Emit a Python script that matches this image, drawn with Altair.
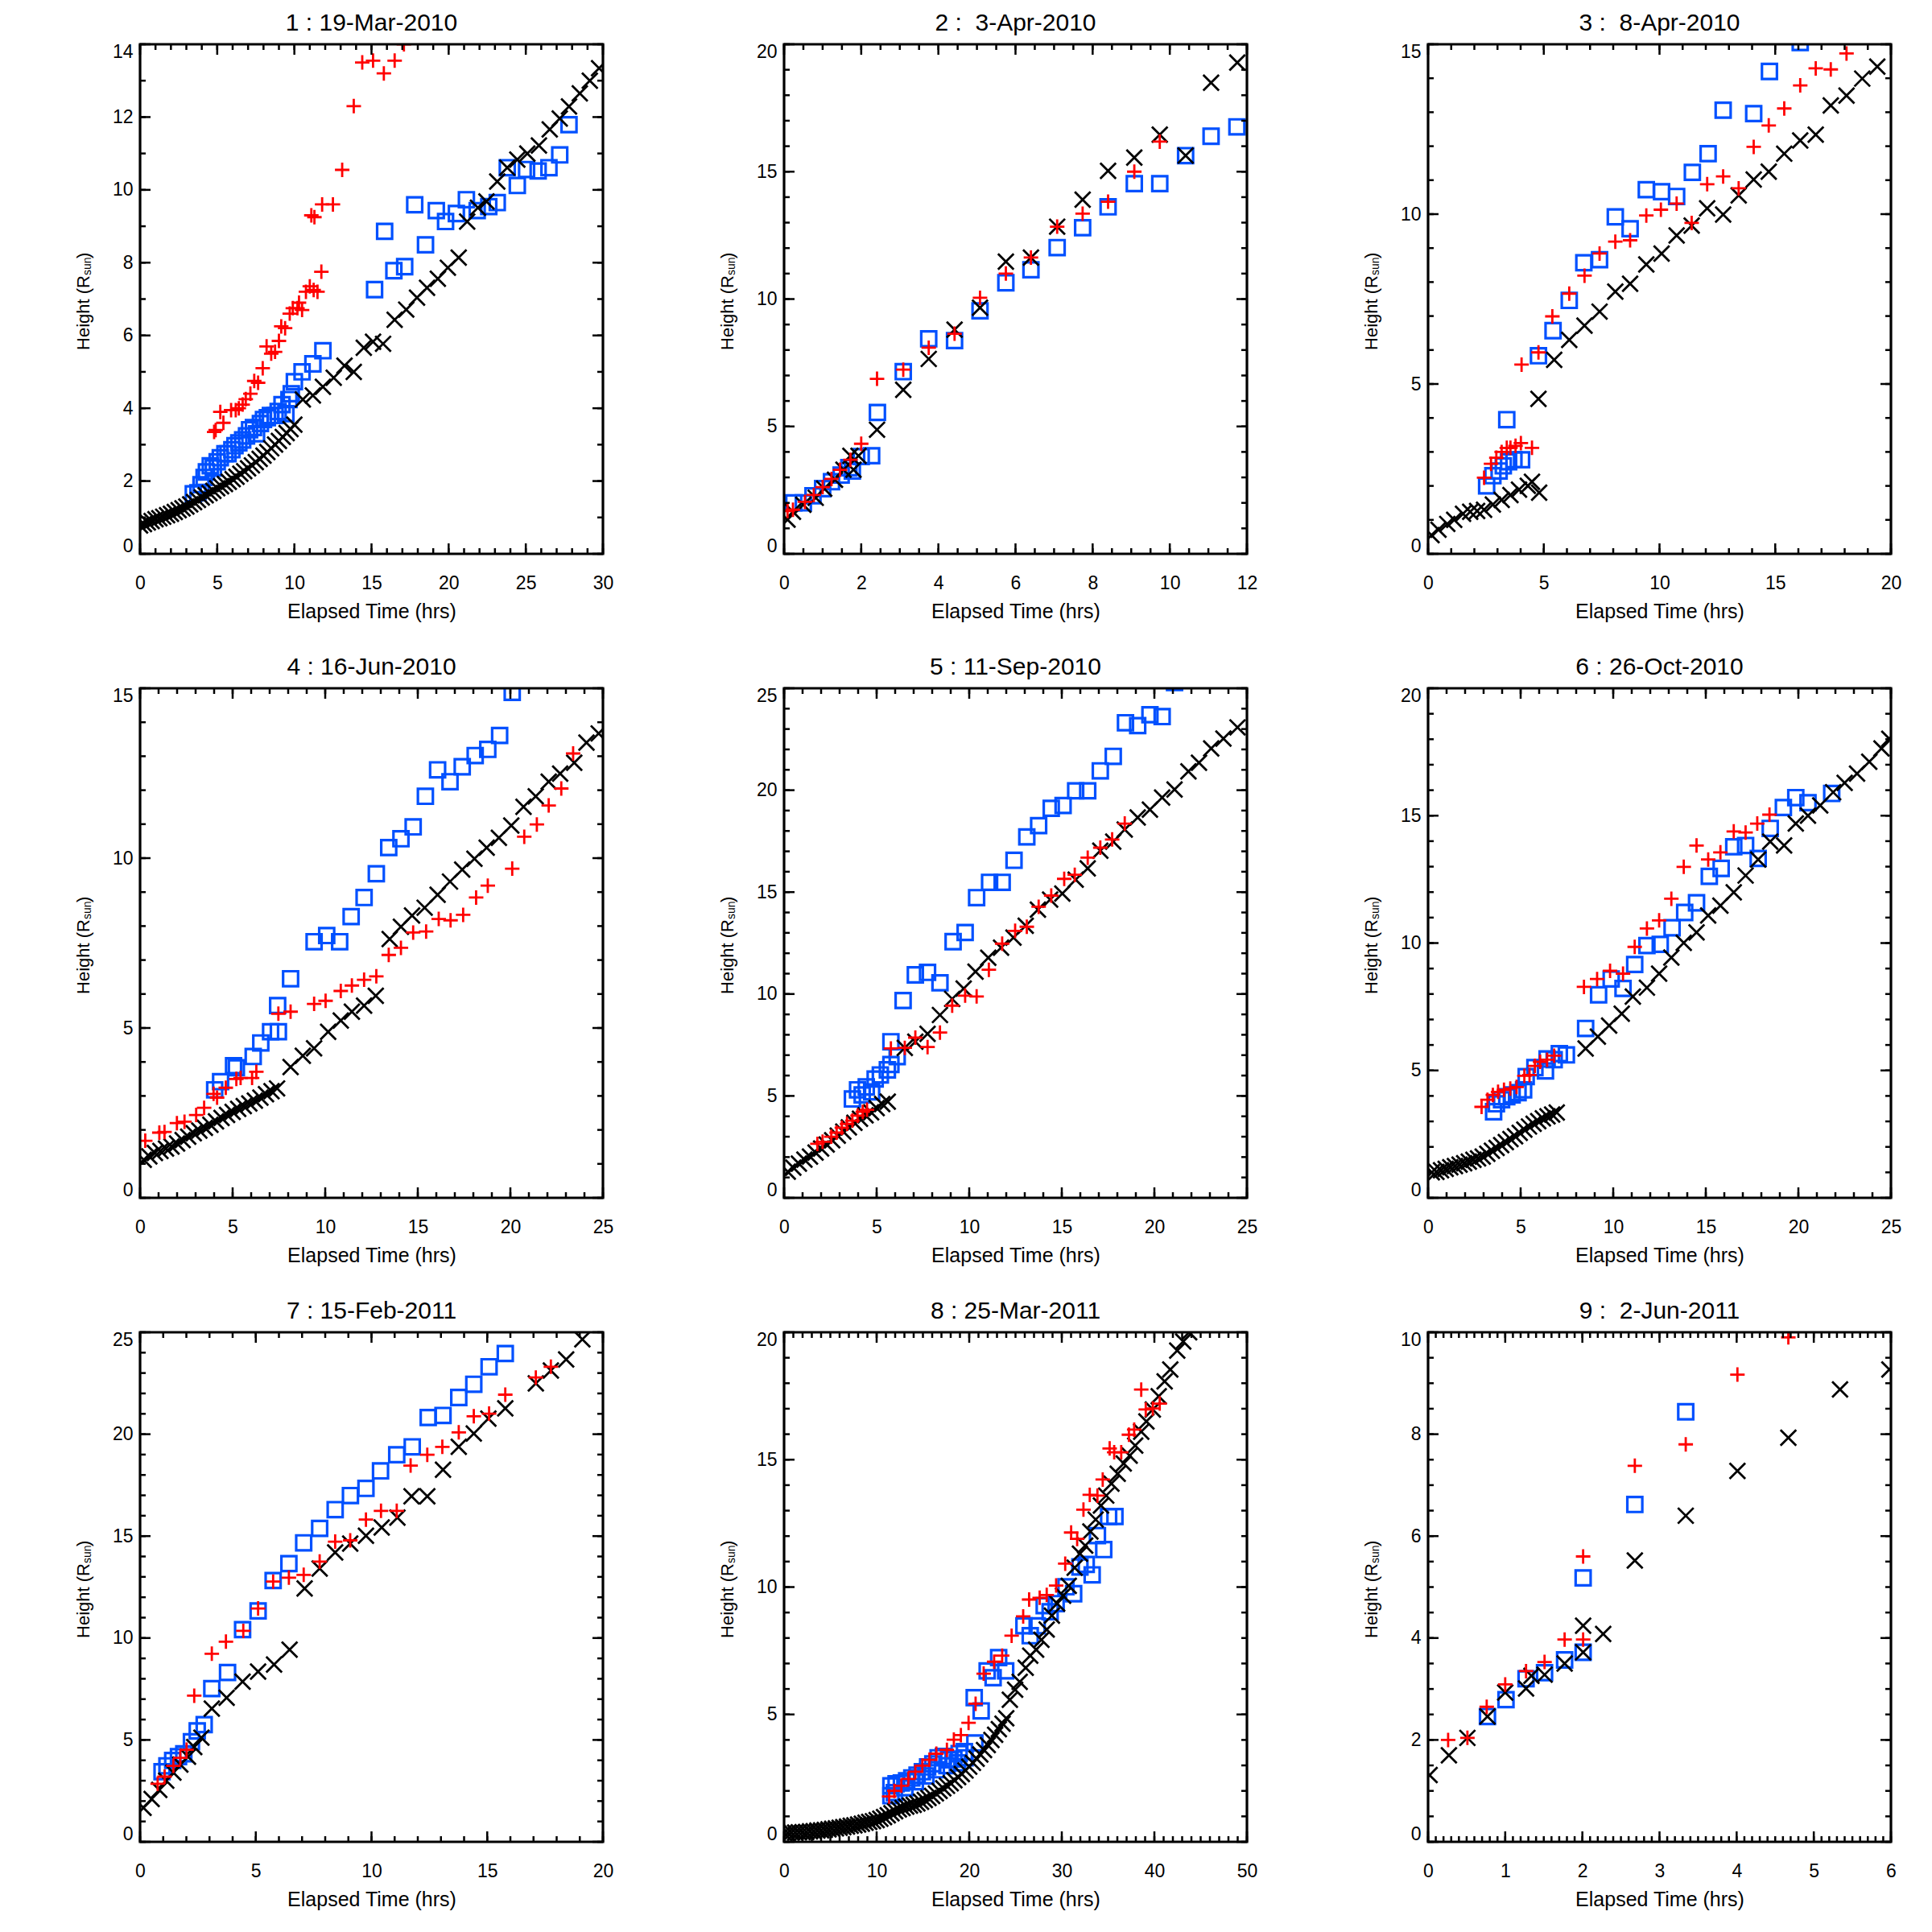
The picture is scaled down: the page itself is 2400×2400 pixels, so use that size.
import altair as alt
import pandas as pd

FONT = "Liberation Sans"
RED = "#ff0000"
BLUE = "#0050ff"
BLACK = "#000000"
W, H = 575, 633

TITLES = ["1 : 19-Mar-2010", "2 :\u00a0 3-Apr-2010", "3 :\u00a0 8-Apr-2010",
          "4 : 16-Jun-2010", "5 : 11-Sep-2010", "6 : 26-Oct-2010",
          "7 : 15-Feb-2011", "8 : 25-Mar-2011", "9 :\u00a0 2-Jun-2011"]
XMAX = [30, 12, 20, 25, 25, 25, 20, 50, 6]
YMAX = [14, 20, 15, 15, 25, 20, 25, 20, 10]
XMAJ = [5, 2, 5, 5, 5, 5, 5, 10, 1]
XMIN = [1, 0.5, 1, 1, 1, 1, 1, 1, 0.1]
YMAJ = [2, 5, 5, 5, 5, 5, 5, 5, 2]
YMIN = [1, 1, 1, 1, 1, 1, 1, 1, 0.5]

# ---------------- Panel 1 ----------------
R1 = [(4.8,3.35),(4.9,3.4),(5.2,3.9),(5.4,3.6),(5.9,3.95),(6.2,3.95),(6.4,4.0),(6.65,4.1),(6.85,4.25),(7.15,4.4),
      (7.4,4.75),(7.65,4.7),(7.95,5.1),(8.2,5.7),(8.5,5.5),(8.75,5.55),(9.0,5.85),(9.15,6.25),(9.4,6.2),(9.7,6.6),
      (9.9,6.75),(10.2,6.75),(10.3,6.9),(10.5,6.7),(10.75,7.2),(11.0,7.35),(11.25,7.25),(11.5,7.2),(11.1,9.3),(11.3,9.25),
      (11.75,7.75),(11.8,9.6),(12.5,9.6),(13.1,10.55),(13.85,12.3),(14.4,13.5),(15.1,13.55),(15.8,13.2),(16.5,13.55),(17.1,14.0)]
B1 = [(3.45,1.65),(3.75,1.68),(3.95,1.9),(4.15,2.1),(4.3,2.25),(4.55,2.42),(4.75,2.36),(5.0,2.53),(5.2,2.64),(5.5,2.75),
      (5.7,2.75),(5.95,2.86),(6.15,2.97),(6.4,3.05),(6.65,3.13),(6.9,3.24),(7.1,3.41),(7.35,3.47),(7.55,3.3),(7.8,3.58),
      (8.0,3.69),(8.25,3.74),(8.45,3.8),(8.75,3.8),(8.95,3.91),(9.2,4.1),(9.45,3.85),(9.65,4.24),(9.8,4.4),(10.0,4.73),
      (10.5,5.0),(11.2,5.22),(11.85,5.58),(15.2,7.26),(15.85,8.86),(16.45,7.78),(17.15,7.89),(17.8,9.59),(18.5,8.49),(19.2,9.43),
      (19.8,9.13),(20.5,9.35),(21.15,9.73),(21.85,9.43),(22.6,9.54),(23.15,9.65),(23.8,10.61),(24.45,10.12),(25.05,10.56),(25.8,10.52),
      (26.5,10.61),(27.2,10.96),(27.8,11.79)]
K1 = [(0.0,0.78),(0.25,0.82),(0.5,0.86),(0.75,0.9),(1.0,0.95),(1.25,0.98),(1.5,1.02),(1.75,1.06),(2.0,1.1),(2.25,1.15),
      (2.5,1.2),(2.75,1.25),(3.0,1.3),(3.25,1.36),(3.5,1.42),(3.75,1.48),(4.0,1.55),(4.25,1.61),(4.5,1.67),(4.75,1.73),
      (5.0,1.8),(5.25,1.86),(5.5,1.92),(5.75,1.98),(6.0,2.05),(6.25,2.12),(6.5,2.2),(6.75,2.27),(7.0,2.35),(7.25,2.43),
      (7.5,2.52),(7.75,2.61),(8.0,2.7),(8.25,2.8),(8.5,2.9),(8.75,3.0),(9.0,3.1),(9.25,3.21),(9.5,3.32),(9.75,3.43),(10.0,3.55),
      (10.55,4.24),(11.2,4.35),(11.85,4.59),(12.55,4.84),(13.25,5.17),(13.85,5.0),(14.5,5.66),(15.1,5.83),(15.75,5.77),(16.5,6.43),
      (17.25,6.71),(17.95,7.04),(18.6,7.31),(19.3,7.56),(19.95,7.86),(20.65,8.14),(21.2,9.13),(21.9,9.51),(22.45,9.68),(23.15,10.23),
      (23.8,10.61),(24.45,10.83),(25.1,11.0),(25.85,11.22),(26.55,11.66),(27.2,11.96),(27.8,12.29),(28.5,12.65),(29.15,13.0),(29.75,13.34)]

# ---------------- Panel 2 ----------------
R2 = [(0.09,1.68),(0.23,1.73),(0.54,2.04),(0.77,2.31),(1.0,2.62),(1.23,2.94),(1.45,3.3),(1.72,3.69),(2.0,4.32),(2.41,6.87),
      (3.09,7.23),(3.75,8.09),(4.42,8.64),(5.08,10.05),(5.75,11.0),(6.4,11.63),(7.08,12.84),(7.74,13.35),(8.4,13.82),(9.08,15.0),(9.74,16.18)]
B2 = [(0.25,2.0),(0.5,2.0),(0.75,2.28),(1.0,2.56),(1.23,2.83),(1.48,3.09),(1.68,3.38),(1.77,3.25),(2.0,3.82),(2.27,3.85),
      (2.42,5.55),(3.09,7.15),(3.75,8.44),(4.42,8.37),(5.08,9.54),(5.75,10.64),(6.4,11.15),(7.08,12.02),(7.74,12.8),(8.4,13.62),
      (9.08,14.53),(9.74,14.53),(10.41,15.63),(11.07,16.39),(11.74,16.76)]
K2 = [(0.09,1.34),(0.23,1.65),(0.5,1.93),(0.82,2.2),(1.04,2.56),(1.32,2.91),(1.54,3.3),(1.72,3.85),(1.8,3.3),(1.93,3.85),
      (2.41,4.87),(3.09,6.44),(3.75,7.65),(4.42,8.8),(5.08,9.66),(5.75,11.47),(6.4,11.63),(7.08,12.84),(7.74,13.9),(8.4,15.03),
      (9.08,15.55),(9.74,16.45),(10.41,15.63),(11.07,18.49),(11.75,19.28)]

# ---------------- Panel 3 ----------------
R3 = [(2.42,2.24),(2.72,2.65),(2.95,2.83),(3.18,3.0),(3.4,3.12),(3.56,3.12),(3.78,3.18),(4.01,3.26),(4.49,3.12),(4.04,5.57),
      (4.77,5.93),(5.37,6.99),(6.1,7.66),(6.76,8.19),(7.41,8.84),(8.09,9.19),(8.73,9.23),(9.43,9.96),(10.06,10.13),(10.74,10.31),
      (11.39,9.74),(12.06,10.88),(12.75,11.11),(13.42,10.76),(14.07,11.98),(14.72,12.61),(15.39,13.11),(16.08,13.79),(16.75,14.29),
      (17.4,14.26),(18.08,14.73)]
B3 = [(2.53,2.0),(2.8,2.3),(3.07,2.44),(3.25,2.59),(3.48,2.71),(3.71,2.77),(4.04,2.77),(3.4,3.95),(4.77,5.83),(5.4,6.57),
      (6.1,7.46),(6.73,8.57),(7.41,8.66),(8.09,9.92),(8.73,9.57),(9.43,10.72),(10.09,10.66),(10.74,10.52),(11.42,11.23),(12.1,11.78),
      (12.75,13.06),(14.07,12.96),(14.75,14.2),(16.08,15.05)]
K3 = [(0.15,0.55),(0.45,0.71),(0.83,0.88),(1.13,1.0),(1.51,1.18),(1.82,1.24),(2.12,1.26),(2.42,1.3),(2.8,1.45),(3.18,1.59),
      (3.56,1.73),(3.93,1.89),(4.31,2.0),(4.49,2.12),(4.8,1.8),(4.77,4.56),(5.45,5.71),(6.1,6.3),(6.76,6.72),(7.41,7.13),
      (8.09,7.72),(8.73,7.95),(9.43,8.52),(10.09,8.84),(10.74,9.37),(11.39,9.66),(12.06,10.17),(12.75,9.99),(13.42,10.55),(14.07,11.02),
      (14.72,11.25),(15.39,11.78),(16.08,12.17),(16.75,12.34),(17.4,13.2),(18.08,13.49),(18.76,13.99),(19.41,14.34)]

# ---------------- Panel 4 ----------------
R4 = [(0.28,1.68),(1.04,1.92),(1.32,1.94),(1.99,2.2),(2.4,2.24),(3.03,2.44),(3.46,2.65),(3.97,3.06),(4.16,2.95),(4.63,3.24),
      (5.2,3.5),(5.43,3.53),(6.05,3.53),(6.28,3.71),(7.47,5.42),(8.13,5.48),(9.4,5.71),(10.02,5.8),(10.84,6.09),(11.44,6.25),
      (12.1,6.42),(12.76,6.52),(13.43,7.15),(14.09,7.36),(14.75,7.81),(15.45,7.84),(16.13,8.21),(16.77,8.17),(17.45,8.33),(18.15,8.84),
      (18.78,9.19),(20.1,9.69),(20.75,10.63),(21.43,10.99),(22.07,11.55),(22.75,12.05),(23.39,13.08)]
B4 = [(4.03,3.18),(4.35,3.42),(5.05,3.89),(5.2,3.83),(6.11,4.16),(6.52,4.56),(7.05,4.89),(7.47,4.89),(7.43,5.66),(8.13,6.45),
      (9.4,7.54),(10.08,7.72),(10.78,7.54),(11.4,8.28),(12.1,8.84),(12.76,9.54),(13.43,10.31),(14.09,10.57),(14.75,10.92),(15.41,11.82),
      (16.07,12.6),(16.74,12.25),(17.4,12.69),(18.1,13.02),(18.78,13.2),(19.42,13.61),(20.1,14.88)]
K4 = [(0.2,1.12),(0.5,1.22),(0.8,1.32),(1.1,1.38),(1.4,1.45),(1.7,1.51),(2.0,1.6),(2.3,1.7),(2.6,1.8),(2.9,1.9),
      (3.2,1.98),(3.5,2.06),(3.8,2.15),(4.1,2.25),(4.4,2.35),(4.7,2.44),(5.0,2.53),(5.3,2.62),(5.6,2.7),(5.9,2.78),
      (6.2,2.86),(6.5,2.95),(6.8,3.05),(7.1,3.14),(7.4,3.22),
      (8.13,3.85),(8.79,4.18),(9.4,4.4),(10.16,4.89),(10.84,5.22),(11.44,5.48),(12.1,5.66),(12.73,5.95),(13.48,7.62),(14.09,7.98),
      (14.69,8.31),(15.37,8.54),(16.07,8.92),(16.74,9.31),(17.4,9.66),(18.06,9.98),(18.72,10.31),(19.38,10.6),(20.05,10.96),(20.71,11.51),
      (21.37,11.82),(22.07,12.25),(22.69,12.49),(23.45,12.81),(24.11,13.4),(24.77,13.67)]

# ---------------- Panel 5 ----------------
R5 = [(1.8,2.65),(2.08,2.75),(2.55,3.0),(2.84,3.2),(3.12,3.44),(3.4,3.63),(3.69,3.79),(3.97,4.03),(4.25,4.22),(4.48,4.32),
      (5.77,7.33),(6.52,7.36),(7.09,7.86),(7.75,7.4),(8.42,8.11),(9.08,9.43),(9.78,9.92),(10.4,9.88),(11.06,11.19),(11.78,12.47),
      (12.48,13.1),(13.11,13.3),(13.75,14.28),(14.43,14.83),(15.13,15.65),(15.7,15.85),(16.4,16.69),(17.08,17.18),(17.72,17.58),(18.4,18.36)]
B5 = [(3.69,4.85),(3.97,5.3),(4.22,5.05),(4.44,5.44),(4.73,5.2),(4.92,5.83),(5.2,6.03),(5.58,6.28),(5.77,6.54),(6.11,6.93),
      (5.77,7.66),(6.43,9.68),(7.09,10.94),(7.75,11.06),(8.42,10.55),(9.13,12.57),(9.78,13.02),(10.4,14.73),(11.1,15.48),(11.78,15.48),
      (12.42,16.56),(13.11,17.71),(13.75,18.26),(14.43,19.11),(15.07,19.25),(15.75,19.97),(16.4,19.97),(17.08,20.95),(17.78,21.66),(18.44,23.31),
      (19.1,23.17),(19.76,23.7),(20.42,23.61),(21.09,25.28)]
K5 = [(0.2,1.28),(0.5,1.48),(0.8,1.68),(1.1,1.88),(1.4,2.02),(1.7,2.22),(2.0,2.42),(2.3,2.62),(2.6,2.82),(2.9,3.05),
      (3.2,3.25),(3.5,3.46),(3.8,3.68),(4.1,3.88),(4.4,4.05),(4.7,4.2),(5.0,4.4),(5.3,4.6),(5.6,4.72),
      (6.52,7.36),(7.09,7.66),(7.75,8.05),(8.42,8.97),(9.08,9.76),(9.7,10.27),(10.34,11.1),(11.03,11.78),(11.72,12.27),(12.39,12.77),
      (13.05,13.35),(13.71,14.14),(14.37,14.63),(15.03,14.93),(15.75,15.61),(16.4,16.16),(17.08,17.03),(17.78,17.48),(18.4,18.07),(19.1,18.66),
      (19.76,19.05),(20.42,19.64),(21.09,20.03),(21.84,20.92),(22.41,21.35),(23.07,22.05),(23.73,22.53),(24.49,23.08)]

# ---------------- Panel 6 ----------------
R6 = [(2.89,3.57),(3.21,3.85),(3.5,4.04),(3.78,4.16),(4.1,4.24),(4.44,4.29),(4.78,4.35),(5.2,4.79),(5.48,4.82),(5.77,5.18),
      (6.05,5.34),(6.43,5.42),(6.81,5.58),(8.42,8.28),(9.13,8.59),(9.83,8.91),(10.53,8.8),(11.16,9.85),(11.82,10.57),(12.48,10.89),
      (13.14,11.74),(13.81,12.99),(14.5,13.83),(15.13,13.28),(15.79,13.56),(16.51,14.38),(17.15,14.34),(17.78,14.69),(18.44,15.04)]
B6 = [(3.54,3.38),(3.69,3.69),(3.97,3.85),(4.25,3.97),(4.54,4.04),(4.86,4.13),(5.16,4.24),(5.3,4.76),(5.77,5.11),(6.34,4.98),
      (6.43,5.45),(6.81,5.42),(7.09,5.66),(7.47,5.61),(8.51,6.65),(9.21,7.97),(9.89,8.59),(10.53,8.22),(11.16,9.16),(11.82,9.9),
      (12.54,9.95),(13.18,10.6),(13.86,11.2),(14.5,11.58),(15.19,12.62),(15.83,12.93),(16.51,13.78),(17.15,13.83),(17.83,13.32),(18.48,14.5),
      (19.19,15.32),(19.86,15.71),(20.52,15.51),(21.8,15.87)]
K6 = [(0.2,1.0),(0.45,1.02),(0.7,1.08),(0.95,1.14),(1.2,1.2),(1.45,1.25),(1.7,1.3),(1.95,1.36),(2.2,1.42),(2.45,1.49),
      (2.7,1.55),(2.95,1.62),(3.2,1.73),(3.45,1.85),(3.7,1.96),(3.95,2.07),(4.2,2.19),(4.45,2.31),(4.7,2.42),(4.95,2.55),
      (5.2,2.68),(5.45,2.8),(5.7,2.91),(5.95,3.01),(6.2,3.12),(6.45,3.2),(6.7,3.27),(6.95,3.35),
      (8.51,5.86),(9.17,6.33),(9.78,6.76),(10.46,7.23),(11.06,7.9),(11.82,8.25),(12.48,8.8),(13.14,9.43),(13.81,10.01),(14.5,10.42),
      (15.13,11.08),(15.79,11.47),(16.51,11.99),(17.15,12.65),(17.83,13.28),(18.48,13.98),(19.23,13.83),(19.86,14.69),(20.52,15.0),(21.18,15.4),
      (21.88,15.92),(22.5,16.29),(23.17,16.65),(23.83,17.12),(24.49,17.64),(24.91,18.02)]

# ---------------- Panel 7 ----------------
R7 = [(0.76,2.85),(1.06,3.2),(1.44,3.73),(1.74,4.12),(2.01,4.52),(2.34,7.17),(3.1,9.23),(3.71,9.82),(4.46,10.35),(5.1,11.45),
      (5.75,12.77),(6.43,12.96),(7.07,13.1),(7.76,13.75),(8.43,14.73),(9.08,14.79),(9.76,15.81),(10.41,16.24),(11.09,16.24),(11.69,18.46),
      (12.41,18.99),(13.06,19.38),(13.77,20.09),(14.42,20.88),(15.08,21.01),(15.78,21.94),(17.1,22.78),(17.75,23.31)]
B7 = [(0.95,3.44),(1.16,3.73),(1.41,3.99),(1.66,4.18),(1.89,4.32),(2.22,4.91),(2.47,5.44),(2.77,5.75),(3.1,7.52),(3.78,8.31),
      (4.43,10.41),(5.1,11.33),(5.75,12.82),(6.43,13.65),(7.07,14.67),(7.76,15.38),(8.43,16.3),(9.09,16.99),(9.76,17.34),(10.39,18.2),
      (11.09,18.99),(11.76,19.38),(12.45,20.82),(13.09,20.92),(13.77,21.8),(14.42,22.45),(15.08,23.31),(15.78,23.96)]
K7 = [(0.15,1.67),(0.5,2.1),(0.83,2.55),(1.13,3.0),(1.44,3.4),(1.74,3.79),(2.07,4.18),(2.34,4.65),(2.65,5.11),(3.1,6.54),
      (3.74,7.07),(4.43,7.86),(5.1,8.35),(5.79,8.7),(6.46,9.43),(7.11,12.43),(7.76,13.41),(8.43,14.2),(9.08,14.63),(9.76,15.02),
      (10.44,15.42),(11.12,15.91),(11.73,16.95),(12.41,16.95),(13.09,18.26),(13.77,19.38),(14.42,20.03),(15.05,20.76),(15.78,21.27),(17.1,22.49),
      (17.75,23.12),(18.41,23.67),(19.11,24.65)]

# ---------------- Panel 8 ----------------
R8 = [(11.35,1.78),(11.91,2.0),(12.67,2.2),(13.43,2.47),(14.18,2.75),(14.94,2.99),(15.7,3.22),(16.45,3.46),(17.59,3.61),(18.34,4.01),
      (19.1,4.19),(19.93,4.67),(20.69,5.42),(21.56,6.6),(22.69,7.07),(23.56,7.31),(24.58,8.09),(25.83,8.85),(26.47,9.51),(27.61,9.58),
      (28.37,9.69),(29.39,10.06),(30.37,10.92),(31.01,12.14),(31.66,11.89),(32.34,13.04),(33.02,13.62),(33.85,13.59),(34.42,14.22),(35.17,15.44),
      (35.66,15.29),(36.42,15.29),(37.25,15.98),(37.82,16.18),(38.58,17.75),(39.07,16.97),(39.83,17.01),(40.58,17.2)]
B8 = [(11.54,1.81),(11.54,2.2),(11.91,1.93),(12.1,2.28),(12.67,2.31),(13.05,2.12),(13.24,2.4),(13.8,2.51),(14.18,2.36),(14.37,2.62),
      (14.94,2.75),(15.32,2.59),(15.51,2.94),(16.07,3.06),(16.45,2.83),(16.64,3.3),(17.21,3.35),(17.59,2.99),(17.78,3.22),(18.34,3.25),
      (18.72,3.1),(18.91,3.46),(19.48,3.54),(19.55,3.3),(20.61,3.88),(20.54,5.66),(21.29,5.14),(21.94,6.71),(22.58,6.44),(23.18,7.23),
      (23.94,6.71),(25.91,8.48),(26.59,8.09),(27.34,8.48),(28.1,9.27),(28.74,9.03),(29.39,9.35),(30.45,10.01),(31.28,9.74),(31.96,10.79),
      (32.64,10.89),(33.28,10.48),(33.85,12.02),(34.53,11.47),(35.06,12.77),(35.74,12.77)]
K8 = [(0.0,0.35),(0.4,0.35),(0.8,0.36),(1.2,0.36),(1.6,0.37),(2.0,0.38),(2.4,0.39),(2.8,0.41),(3.2,0.42),(3.6,0.44),
      (4.0,0.45),(4.4,0.47),(4.8,0.49),(5.2,0.51),(5.6,0.53),(6.0,0.55),(6.4,0.58),(6.8,0.6),(7.2,0.63),(7.6,0.65),
      (8.0,0.68),(8.4,0.71),(8.8,0.75),(9.2,0.78),(9.6,0.81),(10.0,0.85),(10.4,0.91),(10.8,0.97),(11.2,1.04),(11.6,1.12),
      (12.0,1.2),(12.4,1.27),(12.8,1.33),(13.2,1.38),(13.6,1.42),(14.0,1.45),(14.4,1.51),(14.8,1.57),(15.2,1.64),(15.6,1.72),
      (16.0,1.8),(16.4,1.9),(16.8,2.0),(17.2,2.1),(17.6,2.2),(18.0,2.3),(18.4,2.42),(18.8,2.54),(19.2,2.66),(19.6,2.8),
      (20.0,2.95),(20.4,3.1),(20.8,3.26),(21.2,3.43),(21.6,3.6),(22.0,3.8),(22.4,4.0),(22.8,4.2),(23.2,4.42),(23.6,4.64),(24.0,4.85),
      (24.39,5.58),(24.96,5.97),(25.45,6.28),(26.1,6.83),(26.59,7.31),(27.23,7.54),(27.8,7.93),(28.37,8.33),(28.93,8.88),(29.5,9.35),
      (30.14,9.66),(30.75,10.05),(31.39,10.76),(31.96,11.31),(32.53,11.63),(33.09,12.18),(33.66,12.65),(34.23,13.2),(34.8,13.59),(35.36,14.06),
      (36.04,14.45),(36.69,14.85),(37.33,15.16),(37.93,15.55),(38.58,16.1),(39.14,16.5),(39.83,16.97),(40.47,17.49),(41.11,18.07),(41.72,18.54),
      (42.47,19.28),(43.12,19.64),(43.76,20.0)]

# ---------------- Panel 9 ----------------
R9 = [(0.26,2.0),(0.51,2.04),(0.76,2.65),(1.0,3.09),(1.27,3.35),(1.51,3.53),(1.77,3.97),(2.01,3.97),(2.01,5.6),(2.68,7.38),
      (3.34,7.8),(4.01,9.17),(4.67,9.9)]
B9 = [(0.77,2.46),(1.01,2.79),(1.27,3.2),(1.51,3.32),(1.77,3.57),(2.01,3.72),(2.01,5.18),(2.68,6.62),(3.34,8.44)]
K9 = [(0.02,1.31),(0.27,1.7),(0.51,2.04),(0.77,2.46),(1.0,2.93),(1.27,3.01),(1.34,3.26),(1.51,3.28),(1.77,3.5),(2.01,3.72),
      (2.01,4.24),(2.27,4.08),(2.68,5.52),(3.34,6.4),(4.01,7.28),(4.67,7.93),(5.34,8.88),(5.98,9.27)]

REDS = [R1, R2, R3, R4, R5, R6, R7, R8, R9]
BLUES = [B1, B2, B3, B4, B5, B6, B7, B8, B9]
BLACKS = [K1, K2, K3, K4, K5, K6, K7, K8, K9]

PLUS = "M-1,0L1,0M0,-1L0,1"
XSHAPE = "M-1,-1L1,1M-1,1L1,-1"
MAJ_LEN, MIN_LEN = 13, 7


def tick_vals(vmax, step):
    n = int(round(vmax / step))
    return [round(k * step, 6) for k in range(n + 1)]


def one(s):
    return pd.DataFrame({"s": [s]})


def make_panel(i):
    xs = alt.Scale(domain=[0, XMAX[i]], nice=False, zero=False)
    ys = alt.Scale(domain=[0, YMAX[i]], nice=False, zero=False)
    xmaj = tick_vals(XMAX[i], XMAJ[i])
    ymaj = tick_vals(YMAX[i], YMAJ[i])
    xmin = tick_vals(XMAX[i], XMIN[i])
    ymin = tick_vals(YMAX[i], YMIN[i])

    xaxis = alt.Axis(values=xmaj, format="d", title="Elapsed Time (hrs)",
                     labelBaseline="alphabetic", labelPadding=43, labelFlush=False,
                     labelOverlap=False, titleY=79, titleBaseline="alphabetic")
    yaxis = alt.Axis(values=ymaj, format="d", title=None, labelPadding=9,
                     labelFlush=True, labelFlushOffset=2, labelOverlap=False)

    def X(f):
        return alt.X(f, scale=xs, axis=xaxis)

    def Y(f):
        return alt.Y(f, scale=ys, axis=yaxis)

    def pts(data, shape, size, color, sw):
        df = pd.DataFrame(data, columns=["t", "h"])
        return alt.Chart(df).mark_point(
            shape=shape, size=size, color=color, filled=False,
            strokeWidth=sw, opacity=1, clip=True
        ).encode(x=X("t:Q"), y=Y("h:Q"))

    layers = [
        pts(BLUES[i], "square", 346, BLUE, 3.2),
        pts(BLACKS[i], XSHAPE, 380, BLACK, 2.8),
        pts(REDS[i], PLUS, 324, RED, 2.8),
    ]

    def yrules(vals, L):
        base = alt.Chart(pd.DataFrame({"v": vals})).mark_rule(color=BLACK, strokeWidth=2.5)
        return [
            base.encode(y=Y("v:Q"), x=alt.value(0), x2=alt.value(L)),
            base.encode(y=Y("v:Q"), x=alt.value(W), x2=alt.value(W - L)),
        ]

    def xrules(vals, L):
        base = alt.Chart(pd.DataFrame({"v": vals})).mark_rule(color=BLACK, strokeWidth=2.5)
        return [
            base.encode(x=X("v:Q"), y=alt.value(H), y2=alt.value(H - L)),
            base.encode(x=X("v:Q"), y=alt.value(0), y2=alt.value(L)),
        ]

    layers += yrules(ymin, MIN_LEN) + yrules(ymaj, MAJ_LEN)
    layers += xrules(xmin, MIN_LEN) + xrules(xmaj, MAJ_LEN)

    # frame box
    layers.append(alt.Chart(one("")).mark_rect(filled=False, color=BLACK, strokeWidth=3.2).encode(
        x=alt.value(0), x2=alt.value(W), y=alt.value(0), y2=alt.value(H)))

    # y-axis title "Height (R_sun)" built from three text pieces
    y0 = 287
    xt = -63
    layers.append(alt.Chart(one("Height (R")).mark_text(
        angle=270, align="right", baseline="alphabetic", font=FONT, fontSize=22, color=BLACK
    ).encode(text="s:N", x=alt.value(xt), y=alt.value(y0)))
    layers.append(alt.Chart(one("sun")).mark_text(
        angle=270, align="left", baseline="alphabetic", font=FONT, fontSize=14, color=BLACK, dy=2
    ).encode(text="s:N", x=alt.value(xt), y=alt.value(y0)))
    layers.append(alt.Chart(one(")")).mark_text(
        angle=270, align="left", baseline="alphabetic", font=FONT, fontSize=22, color=BLACK, dx=21
    ).encode(text="s:N", x=alt.value(xt), y=alt.value(y0)))

    # panel title
    layers.append(alt.Chart(one(TITLES[i])).mark_text(
        align="center", baseline="alphabetic", font=FONT, fontSize=30, color=BLACK
    ).encode(text="s:N", x=alt.value(W / 2), y=alt.value(-17)))

    return alt.layer(*layers).properties(width=W, height=H)


panels = [make_panel(i) for i in range(9)]

chart = alt.concat(
    *panels, columns=3, spacing={"row": 167, "column": 225}, bounds="flush"
).properties(
    padding={"left": 85, "top": 6, "right": 10, "bottom": 10},
    background="white",
).configure_view(
    strokeWidth=0
).configure_axis(
    domain=False, ticks=False, tickSize=0, grid=False,
    labelFont=FONT, labelFontSize=23, labelColor=BLACK,
    titleFont=FONT, titleFontSize=25, titleFontWeight="normal", titleColor=BLACK,
)

chart.save("out.html", embed_options={"renderer": "svg", "actions": False})
